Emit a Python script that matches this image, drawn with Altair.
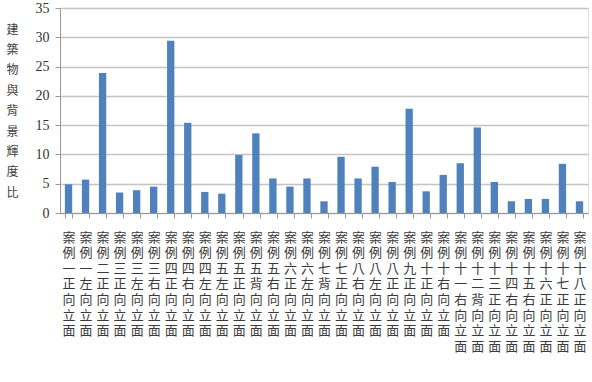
import altair as alt
import pandas as pd

labels = [
    "案例一正向立面", "案例一左向立面", "案例二正向立面", "案例三正向立面", "案例三左向立面",
    "案例三右向立面", "案例四正向立面", "案例四右向立面", "案例四左向立面", "案例五左向立面",
    "案例五正向立面", "案例五背向立面", "案例五右向立面", "案例六正向立面", "案例六左向立面",
    "案例七背向立面", "案例七正向立面", "案例八右向立面", "案例八左向立面", "案例八正向立面",
    "案例九正向立面", "案例十正向立面", "案例十右向立面", "案例十一右向立面", "案例十二背向立面",
    "案例十三正向立面", "案例十四右向立面", "案例十五右向立面", "案例十六正向立面",
    "案例十七正向立面", "案例十八正向立面",
]
values = [
    4.9, 5.7, 23.9, 3.5, 3.9,
    4.5, 29.4, 15.4, 3.6, 3.3,
    9.9, 13.6, 5.9, 4.5, 5.9,
    2.0, 9.6, 5.9, 7.9, 5.3,
    17.8, 3.7, 6.5, 8.5, 14.6,
    5.3, 2.0, 2.4, 2.4, 8.4, 2.0,
]
y_ticks = [0, 5, 10, 15, 20, 25, 30, 35]
y_title = list("建築物與背景輝度比")

df = pd.DataFrame({"case": labels, "ratio": values})

chart = alt.Chart(df).mark_bar(color="#4F81BD").encode(
    x=alt.X(
        "case:N",
        sort=labels,
        scale=alt.Scale(paddingInner=0.57, paddingOuter=0.285),
        axis=alt.Axis(
            title=None,
            labelAngle=0,
            labelExpr="split(datum.label, '')",
            labelFont="Noto Sans CJK TC",
            labelFontSize=13,
            labelLineHeight=15.6,
            labelColor="#3a3a3a",
            labelBaseline="top",
            labelAlign="center",
            labelPadding=13,
            labelOverlap=False,
            labelLimit=0,
            tickBand="extent",
            tickSize=5,
            tickColor="#999999",
            domainColor="#999999",
            grid=False,
        ),
    ),
    y=alt.Y(
        "ratio:Q",
        scale=alt.Scale(domain=[0, 35], nice=False),
        axis=alt.Axis(
            values=y_ticks,
            title=y_title,
            titleAngle=0,
            titleFont="Noto Sans CJK TC",
            titleFontSize=12,
            titleFontWeight="normal",
            titleLineHeight=20.4,
            titleColor="#3a3a3a",
            titleAlign="center",
            titleBaseline="top",
            titleX=-48,
            titleY=16,
            labelFont="Liberation Serif",
            labelFontSize=14,
            labelColor="#333333",
            labelPadding=6,
            tickSize=5,
            tickColor="#999999",
            domainColor="#999999",
            gridColor="#c4c4c4",
            gridWidth=1.4,
        ),
    ),
).properties(
    width=528,
    height=205,
    autosize=alt.AutoSizeParams(type="none"),
    padding={"left": 60, "top": 8, "right": 4, "bottom": 169},
).configure_view(stroke=None).configure(background="white")

chart.save("out.html", embed_options={"renderer": "svg", "actions": False})
